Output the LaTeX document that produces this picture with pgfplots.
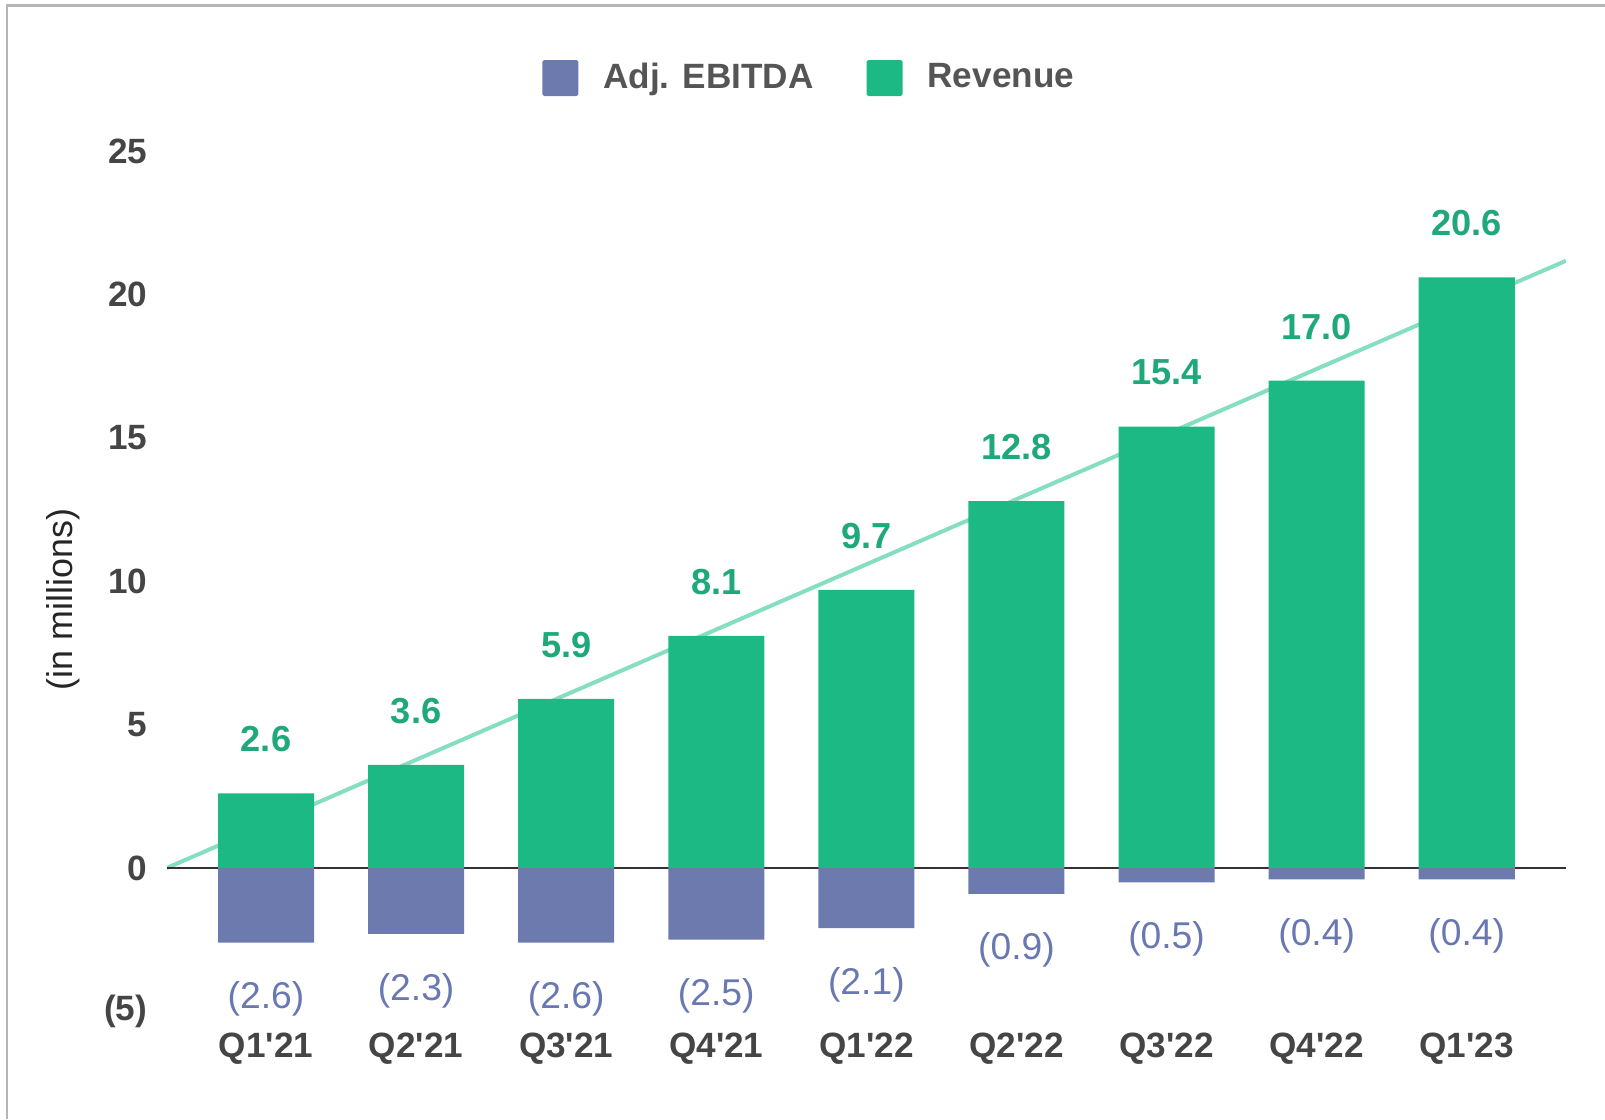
\documentclass[border=0pt]{standalone}
\usepackage{fontspec}
\setmainfont{Liberation Sans}
\usepackage{pgfplots}
\pgfplotsset{compat=1.18}

\definecolor{rev}{HTML}{1DB985}
\definecolor{ebit}{HTML}{6C7AAE}
\definecolor{revtxt}{HTML}{1FA97A}
\definecolor{ebittxt}{HTML}{6A78B2}
\definecolor{trend}{HTML}{86DEC2}
\definecolor{ticktxt}{HTML}{454545}
\definecolor{legtxt}{HTML}{555555}
\definecolor{framegray}{HTML}{B5B5B5}

\begin{document}
\begin{tikzpicture}
  \path[use as bounding box] (0,0) rectangle (160.5mm,-111.9mm);
  \draw[framegray, line width=0.25mm] (0.7mm,-111.9mm) -- (0.7mm,-0.55mm) -- (160.5mm,-0.55mm);
  \begin{axis}[
    at={(16.68mm,-101.13mm)}, anchor=south west,
    scale only axis,
    width=139.9mm,
    height=86mm,
    xmin=-0.661, xmax=8.66,
    ymin=-5, ymax=25,
    axis line style={draw=none},
    tick style={draw=none},
    ytick={-5,0,5,10,15,20,25},
    yticklabels={(5),0,5,10,15,20,25},
    y tick label style={font=\fontsize{10}{12}\selectfont\bfseries, text=ticktxt, inner sep=0pt, xshift=-1.9mm},
    xtick={0,1,2,3,4,5,6,7,8},
    xticklabels={Q1\textquotesingle21,Q2\textquotesingle21,Q3\textquotesingle21,Q4\textquotesingle21,Q1\textquotesingle22,Q2\textquotesingle22,Q3\textquotesingle22,Q4\textquotesingle22,Q1\textquotesingle23},
    x tick label style={font=\fontsize{10}{12}\selectfont\bfseries, text=ticktxt, anchor=center, yshift=-3.75mm},
    ylabel={(in millions)},
    ylabel style={at={(axis description cs:-0.0738,0.479)}, anchor=center, font=\fontsize{10.2}{12}\selectfont, text=black!85},
    legend columns=2,
    legend style={at={(axis description cs:0.461,1.0852)}, anchor=center, draw=none, fill=none,
      font=\fontsize{10}{12}\selectfont\bfseries, text=legtxt,
      /tikz/every odd column/.append style={column sep=1.8mm},
      /tikz/every even column/.append style={column sep=4.6mm}},
  ]
    % trend line and zero line behind the bars
    \addplot[trend, line width=0.4mm, forget plot] coordinates {(-0.661,0) (8.66,21.18)};
    \addplot[black!80, line width=0.18mm, forget plot] coordinates {(-0.661,0) (8.66,0)};

    \addplot[ybar, bar width=9.6mm, bar shift=0pt, fill=ebit, draw=none,
      point meta=explicit symbolic, nodes near coords,
      every node near coord/.style={anchor=center, yshift=-5.65mm, text=ebittxt, font=\fontsize{10.6}{12}\selectfont},
      legend image code/.code={\fill[ebit, rounded corners=0.5pt] (0mm,-1.8mm) rectangle (3.6mm,1.8mm);}]
      coordinates {(0,-2.6)[(2.6)] (1,-2.3)[(2.3)] (2,-2.6)[(2.6)] (3,-2.5)[(2.5)] (4,-2.1)[(2.1)]
                   (5,-0.9)[(0.9)] (6,-0.5)[(0.5)] (7,-0.4)[(0.4)] (8,-0.4)[(0.4)]};
    \addlegendentry{Adj. EBITDA}

    \addplot[ybar, bar width=9.6mm, bar shift=0pt, fill=rev, draw=none,
      point meta=explicit symbolic, nodes near coords,
      every node near coord/.style={anchor=center, yshift=5.4mm, text=revtxt, font=\fontsize{10.3}{12}\selectfont\bfseries},
      legend image code/.code={\fill[rev, rounded corners=0.5pt] (0mm,-1.8mm) rectangle (3.6mm,1.8mm);}]
      coordinates {(0,2.6)[2.6] (1,3.6)[3.6] (2,5.9)[5.9] (3,8.1)[8.1] (4,9.7)[9.7]
                   (5,12.8)[12.8] (6,15.4)[15.4] (7,17.0)[17.0] (8,20.6)[20.6]};
    \addlegendentry{Revenue}
  \end{axis}
\end{tikzpicture}
\end{document}
